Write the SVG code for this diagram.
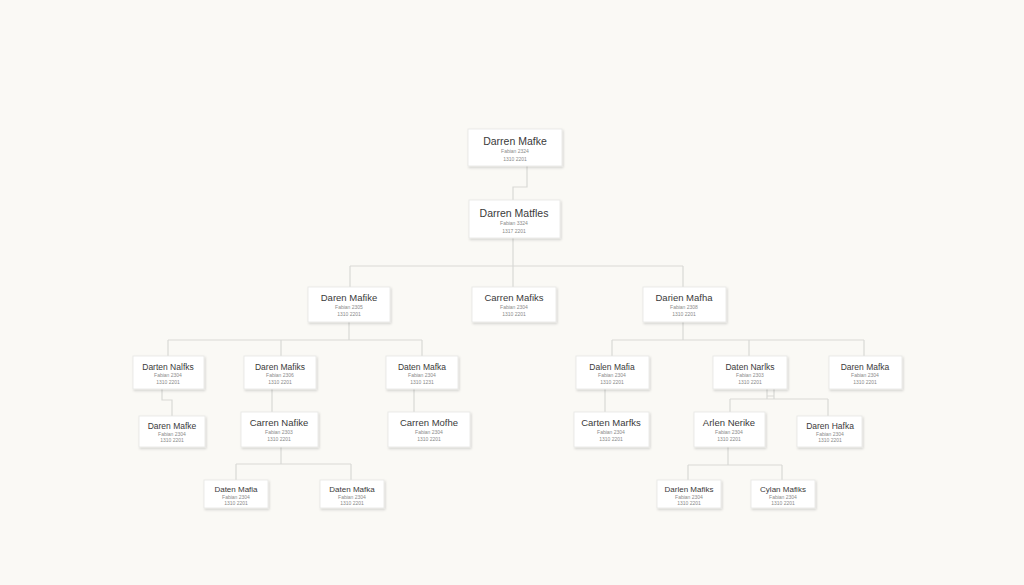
<svg xmlns="http://www.w3.org/2000/svg" width="1024" height="585" viewBox="0 0 1024 585">
<defs>
<filter id="sh" x="-20%" y="-20%" width="140%" height="150%">
<feDropShadow dx="1" dy="1.5" stdDeviation="1.2" flood-color="#000" flood-opacity="0.16"/>
</filter>
<style>
.box{fill:#ffffff;stroke:#e6e6e4;stroke-width:0.8;filter:url(#sh)}
.nm{font-family:"Liberation Sans",Arial,sans-serif;fill:#3a3a3a;text-anchor:middle}
.sb{font-family:"Liberation Sans",Arial,sans-serif;fill:#8a8a8a;text-anchor:middle;font-size:5px}
.c{fill:none;stroke:#d9d9d6;stroke-width:1.2}
</style>
</defs>
<rect width="1024" height="585" fill="#faf9f5"/>
<g id="connectors">
<path class="c" d="M527,166 V187 H513 V200"/>
<path class="c" d="M513,238 V266 M350,266 H683 M350,266 V287 M513,266 V287 M683,266 V287"/>
<path class="c" d="M349,322 V340 M168,340 H422 M168,340 V356 M281,340 V356 M422,340 V356"/>
<path class="c" d="M162,389 V400 H172 V416"/>
<path class="c" d="M272,389 V412"/>
<path class="c" d="M414,389 V412"/>
<path class="c" d="M281,447 V464 M236,464 H351 M236,464 V480 M351,464 V480"/>
<path class="c" d="M683,322 V340 M612,340 H864 M612,340 V356 M749,340 V356 M864,340 V356"/>
<path class="c" d="M605,389 V412"/>
<path class="c" d="M767,389 V399 M774,389 V399 M767,396 H774 M730,399 H828 M730,399 V412 M828,399 V416"/>
<path class="c" d="M728,447 V465 M688,465 H782 M688,465 V480 M782,465 V480"/>
</g>
<g id="n1"><rect class="box" x="468" y="129" width="94" height="37"/><text class="nm" x="515" y="145" font-size="10.5">Darren Mafke</text><text class="sb" x="515" y="153">Fabian 2324</text><text class="sb" x="515" y="161">1310 2201</text></g>
<g id="n2"><rect class="box" x="469" y="200" width="91" height="38"/><text class="nm" x="514" y="217" font-size="10.5">Darren Matfles</text><text class="sb" x="514" y="225">Fabian 3324</text><text class="sb" x="514" y="233">1317 2201</text></g>
<g id="n3a"><rect class="box" x="308" y="287" width="82" height="35"/><text class="nm" x="349" y="301" font-size="9.5">Daren Mafike</text><text class="sb" x="349" y="309">Fabian 2305</text><text class="sb" x="349" y="316">1310 2201</text></g>
<g id="n3b"><rect class="box" x="472" y="287" width="84" height="35"/><text class="nm" x="514" y="301" font-size="9.5">Carren Mafiks</text><text class="sb" x="514" y="309">Fabian 2304</text><text class="sb" x="514" y="316">1310 2201</text></g>
<g id="n3c"><rect class="box" x="643" y="287" width="83" height="35"/><text class="nm" x="684" y="301" font-size="9.5">Darien Mafha</text><text class="sb" x="684" y="309">Fabian 2308</text><text class="sb" x="684" y="316">1310 2201</text></g>
<g id="n4a"><rect class="box" x="133" y="356" width="71" height="33"/><text class="nm" x="168" y="370" font-size="8.5">Darten Nalfks</text><text class="sb" x="168" y="377">Fabian 2304</text><text class="sb" x="168" y="384">1310 2201</text></g>
<g id="n4b"><rect class="box" x="244" y="356" width="72" height="33"/><text class="nm" x="280" y="370" font-size="8.5">Daren Mafiks</text><text class="sb" x="280" y="377">Fabian 2306</text><text class="sb" x="280" y="384">1310 2201</text></g>
<g id="n4c"><rect class="box" x="386" y="356" width="72" height="33"/><text class="nm" x="422" y="370" font-size="8.5">Daten Mafka</text><text class="sb" x="422" y="377">Fabian 2304</text><text class="sb" x="422" y="384">1310 1231</text></g>
<g id="n5a"><rect class="box" x="139" y="416" width="66" height="31"/><text class="nm" x="172" y="429" font-size="8.5">Daren Mafke</text><text class="sb" x="172" y="436">Fabian 2304</text><text class="sb" x="172" y="442">1310 2201</text></g>
<g id="n5b"><rect class="box" x="241" y="412" width="77" height="35"/><text class="nm" x="279" y="426" font-size="9.5">Carren Nafike</text><text class="sb" x="279" y="434">Fabian 2303</text><text class="sb" x="279" y="441">1310 2201</text></g>
<g id="n5c"><rect class="box" x="388" y="412" width="82" height="35"/><text class="nm" x="429" y="426" font-size="9.5">Carren Mofhe</text><text class="sb" x="429" y="434">Fabian 2304</text><text class="sb" x="429" y="441">1310 2201</text></g>
<g id="n6a"><rect class="box" x="204" y="480" width="64" height="28"/><text class="nm" x="236" y="492" font-size="8">Daten Mafia</text><text class="sb" x="236" y="499">Fabian 2304</text><text class="sb" x="236" y="505">1310 2201</text></g>
<g id="n6b"><rect class="box" x="320" y="480" width="64" height="28"/><text class="nm" x="352" y="492" font-size="8">Daten Mafka</text><text class="sb" x="352" y="499">Fabian 2304</text><text class="sb" x="352" y="505">1310 2201</text></g>
<g id="n7a"><rect class="box" x="576" y="356" width="73" height="33"/><text class="nm" x="612" y="370" font-size="8.5">Dalen Mafia</text><text class="sb" x="612" y="377">Fabian 2304</text><text class="sb" x="612" y="384">1310 2201</text></g>
<g id="n7b"><rect class="box" x="713" y="356" width="74" height="33"/><text class="nm" x="750" y="370" font-size="8.5">Daten Narlks</text><text class="sb" x="750" y="377">Fabian 2303</text><text class="sb" x="750" y="384">1310 2201</text></g>
<g id="n7c"><rect class="box" x="829" y="356" width="73" height="33"/><text class="nm" x="865" y="370" font-size="8.5">Daren Mafka</text><text class="sb" x="865" y="377">Fabian 2304</text><text class="sb" x="865" y="384">1310 2201</text></g>
<g id="n8a"><rect class="box" x="574" y="412" width="75" height="35"/><text class="nm" x="611" y="426" font-size="9.5">Carten Marfks</text><text class="sb" x="611" y="434">Fabian 2304</text><text class="sb" x="611" y="441">1310 2201</text></g>
<g id="n8b"><rect class="box" x="694" y="412" width="71" height="35"/><text class="nm" x="729" y="426" font-size="9.5">Arlen Nerike</text><text class="sb" x="729" y="434">Fabian 2304</text><text class="sb" x="729" y="441">1310 2201</text></g>
<g id="n8c"><rect class="box" x="797" y="416" width="65" height="31"/><text class="nm" x="830" y="429" font-size="8.5">Daren Hafka</text><text class="sb" x="830" y="436">Fabian 2304</text><text class="sb" x="830" y="442">1310 2201</text></g>
<g id="n9a"><rect class="box" x="657" y="480" width="64" height="28"/><text class="nm" x="689" y="492" font-size="8">Darlen Mafiks</text><text class="sb" x="689" y="499">Fabian 2304</text><text class="sb" x="689" y="505">1310 2201</text></g>
<g id="n9b"><rect class="box" x="751" y="480" width="64" height="28"/><text class="nm" x="783" y="492" font-size="8">Cylan Mafiks</text><text class="sb" x="783" y="499">Fabian 2304</text><text class="sb" x="783" y="505">1310 2201</text></g>
</svg>
